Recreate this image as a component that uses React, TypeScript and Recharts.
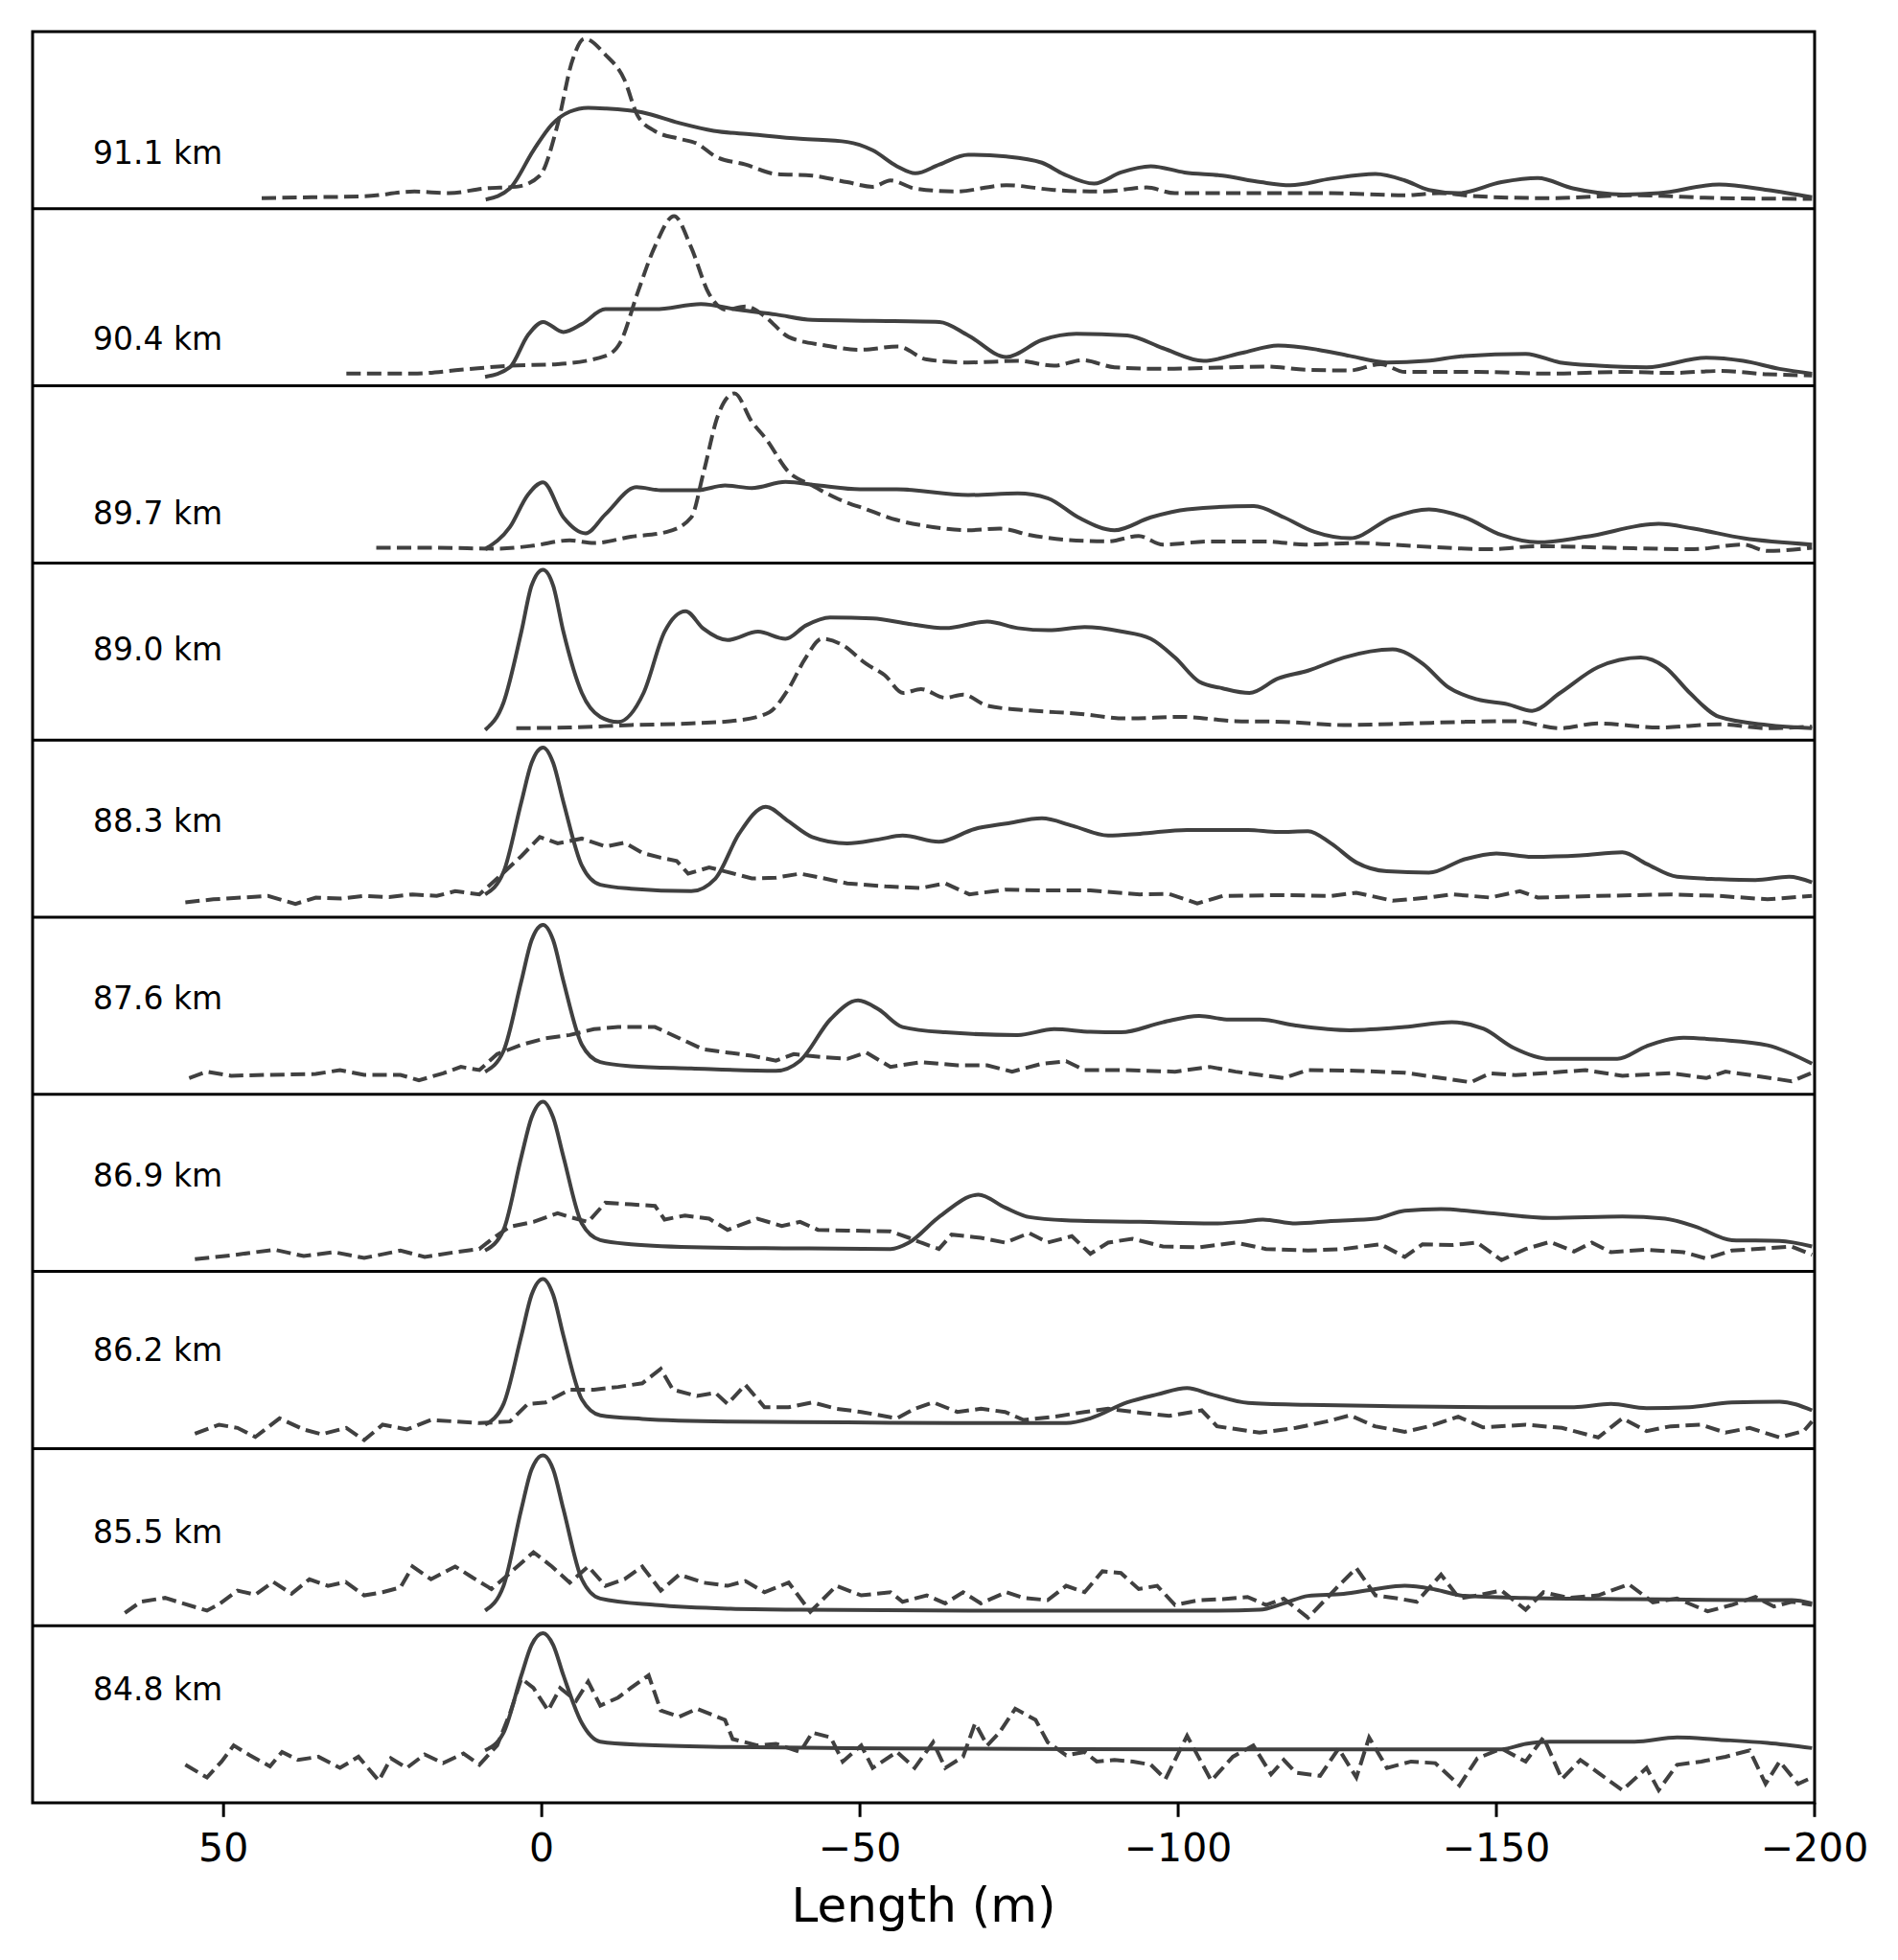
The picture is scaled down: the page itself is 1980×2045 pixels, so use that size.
import React from 'react';
import { LineChart, Line, XAxis, YAxis } from 'recharts';

type P = [number, number];

const panelLabels = ['91.1 km', '90.4 km', '89.7 km', '89.0 km', '88.3 km', '87.6 km', '86.9 km', '86.2 km', '85.5 km', '84.8 km'];
const xTicks = [50, 0, -50, -100, -150, -200];
const xDomain = [-200, 80];
const xLabel = 'Length (m)';

const s911: P[] = [[8.8,5.2],[5,11.5],[1.3,33],[-1.6,47.6],[-4.4,54.8],[-7.3,57],[-10,56.6],[-15.8,54.4],[-21.5,48.5],[-27,44],[-33,42],[-40.6,39.5],[-48,37.7],[-52,33],[-55.8,24],[-58.7,20],[-62.5,25],[-67,30.5],[-73,29.5],[-78.6,26],[-82,19.6],[-86.8,14.2],[-91,20.5],[-95.7,24],[-101,20.5],[-107,18.7],[-113,15],[-117.6,13.3],[-124,17],[-131,19.6],[-135.6,16],[-139.4,10.6],[-144,8.8],[-150.8,15],[-156.5,17.3],[-162,11.5],[-170,8],[-175.5,8.8],[-185,13.7],[-192.6,10.6],[-199.6,6.5]];
const d911: P[] = [[44,6],[36,6.5],[27.9,7],[20,9.7],[14.6,8.8],[8.9,11.5],[4,12.4],[0.3,18.7],[-2.5,47.6],[-4.8,83.6],[-6.7,96],[-10,87],[-13,72.8],[-15,53],[-17.7,44],[-21.6,39.5],[-24.4,36.8],[-27.3,29.5],[-32,25],[-36.8,19.6],[-42.5,18.7],[-48,15],[-52,12.4],[-54.8,16],[-58.6,11.5],[-65,9.7],[-73,13.3],[-80.5,10.6],[-88,9.7],[-95,12],[-99.5,8.8],[-111,8.8],[-124,8.8],[-135.6,7.6],[-141,8.8],[-147,7],[-158,6],[-171.7,7.6],[-185,6],[-199.6,5.6]];

const s904: P[] = [[8.9,5.2],[5,10.6],[2.2,28.6],[-0.2,36.2],[-3.4,30.5],[-6.3,35],[-10,43.4],[-17.8,43.4],[-25,46.3],[-31,43],[-36.8,40.4],[-42.5,37.3],[-52,36.8],[-62.5,36.2],[-67,28.6],[-73,16.4],[-78.6,26],[-84,29.5],[-92,28.6],[-97.6,21.4],[-104,14.2],[-110,18.7],[-115.7,22.9],[-122,20.5],[-127,17],[-132.8,13.3],[-139,14.2],[-145,17],[-154.6,18.2],[-160,13.3],[-166,11.5],[-173.6,10.6],[-183,16],[-188.8,14.2],[-194.5,9.7],[-199.6,7]];
const d904: P[] = [[30.7,7],[20.3,7],[12.7,9.2],[5,11.5],[-2.5,12.4],[-10,17],[-12.4,25],[-15,52],[-17.8,79],[-20.8,96],[-23.4,79],[-26.3,52],[-29,43],[-32,45],[-35,39.5],[-38.8,27.7],[-44.4,23],[-50,20.5],[-56,22.3],[-60.5,15],[-67,13.3],[-74.8,14.2],[-80.5,11.5],[-85,14.6],[-90,10.6],[-97.6,9.7],[-105,10.3],[-113.8,11],[-120,9.2],[-127,8.8],[-131.8,12.4],[-135.6,8],[-147,8],[-158.4,7],[-170,8],[-177.4,7.4],[-185,8.5],[-192.6,6.7],[-199.6,6]];

const s897: P[] = [[8.9,8],[5,20.5],[2.2,38.6],[-0.2,45.8],[-3.4,26],[-6.9,17],[-10,27.7],[-14.9,43],[-18.7,41.3],[-24.4,41.3],[-28.8,44],[-33,42.5],[-38.3,46],[-43.5,44],[-50,41.8],[-55.8,41.8],[-67,38.6],[-74.8,39.5],[-79.5,36.8],[-84.3,26],[-90,18.7],[-95.7,26],[-101.4,30.5],[-111.9,32.3],[-116.6,26],[-121.4,17.8],[-127,14.2],[-133.7,26],[-139.4,30.5],[-145,26],[-150.8,16],[-156.5,11.9],[-164,15],[-175.5,22.3],[-181,19.6],[-188.8,14.2],[-199.6,10.6]];
const d897: P[] = [[26,8.8],[16.4,8.8],[7,8.3],[1.3,10],[-4.4,13],[-8.2,11.5],[-14,15],[-19.7,17.8],[-23.5,26],[-25.4,51],[-27.7,83.6],[-30.3,96],[-33,80],[-35.3,70],[-38.7,52],[-42.5,44],[-46.3,36.8],[-51,30.5],[-55.8,24.5],[-61.5,20.5],[-67,18.7],[-72,19.6],[-76.7,16],[-82.4,13.3],[-89,12.4],[-93.8,15.5],[-97.6,10.6],[-105,12.4],[-113.8,12.4],[-120,10.6],[-128,11.5],[-137.5,9.7],[-149,8],[-156.5,9.7],[-168,8.8],[-181,8],[-188.8,10.6],[-192.6,7],[-199.6,8.8]];

const s890: P[] = [[8.9,5.6],[6,21],[3.2,61],[1.6,87],[-0.2,96],[-1.8,87],[-3.4,61],[-6.3,26.4],[-9.2,12.9],[-12,10],[-16,26.4],[-19.3,61],[-22.6,72.6],[-25.4,62.7],[-29.2,56.3],[-34,61],[-38.3,57],[-41.5,64.5],[-45.3,69],[-52,68.5],[-57.7,65.4],[-63.4,63],[-70,66.7],[-74.8,63],[-79.6,61.8],[-85.3,63.6],[-91,61.2],[-95.7,57],[-99.5,46.4],[-103.3,32.8],[-107,29],[-111.2,26.4],[-115.7,34.6],[-120.4,39],[-126,46.4],[-133.7,51],[-138.5,42.7],[-142.3,30],[-147,22.8],[-151.8,20],[-155.6,16.3],[-160,26.4],[-166,41],[-172.7,46.4],[-176.5,41],[-180.4,26.4],[-185,12.9],[-192.6,8.3],[-199.6,6.5]];
const d890: P[] = [[4,6.5],[-4.4,6.9],[-14,8.3],[-23.5,9.2],[-31,11],[-35.8,15.6],[-38.7,28.3],[-41.5,46.4],[-44,57],[-47.2,53.6],[-51,42.8],[-53.9,36.4],[-56.8,26.4],[-59.6,28.6],[-63.4,23.7],[-66.2,25.5],[-70,19.2],[-76.7,16.5],[-84.3,14.7],[-92,12],[-100.5,12.9],[-109,10.5],[-116.6,10.1],[-126,8.3],[-136.5,9.2],[-145,10.1],[-152.7,10.5],[-160,6.5],[-166,9.2],[-175.5,6.9],[-185,8.7],[-192.6,6.5],[-199.6,7.4]];

const s883: P[] = [[8.9,12.8],[6,25.4],[3.2,65],[1.6,87],[-0.2,95.7],[-1.8,87],[-3.4,65],[-6.3,29],[-9.2,18.2],[-14,16],[-23.5,14.6],[-27.3,21.8],[-31,47],[-35.2,62.3],[-38.7,54.2],[-42.5,45.2],[-48,41.6],[-52.9,43.8],[-56.7,46],[-62.4,42.5],[-68,49.7],[-73,52.8],[-78.6,55.7],[-83.4,51.5],[-89,46],[-94,47],[-101.4,49.2],[-111,49.2],[-115.7,48],[-120.4,48.5],[-124,41.6],[-128,30.8],[-132.8,25.8],[-139.4,25],[-145,32.6],[-150,35.9],[-155.6,34],[-163.2,34.8],[-169.8,36.6],[-173.6,30],[-178.4,22.7],[-185,21.4],[-190.7,20.9],[-196,22.7],[-199.6,19.6]];
const d883: P[] = [[56,8.3],[51.6,10],[47,11],[43,11.9],[38.7,7.4],[35.5,11],[31.5,10.5],[27.9,11.9],[24,11.2],[20.3,12.8],[16.5,11.9],[13.6,14.6],[9.8,12.8],[7,21.8],[3.2,34.4],[0.3,45.2],[-2.5,41.6],[-6.3,44.3],[-10,39.8],[-13,42],[-15.8,36.2],[-18.7,33.5],[-21.2,31.7],[-23,24.5],[-26.3,28],[-29.2,25.4],[-33,21.8],[-36.8,22.2],[-40.6,24.5],[-44.4,21.8],[-48,19],[-54,17.3],[-59.6,16.4],[-63.4,19],[-67.2,12.8],[-73,15.5],[-78.6,15],[-86.2,15],[-94,12.8],[-98.6,13],[-103,7.7],[-107,11.9],[-116.6,12.4],[-124,11.9],[-128,13.7],[-133.7,9.2],[-139.4,11],[-143,12.8],[-149,11],[-153.7,14.6],[-156.5,11],[-166,11.9],[-177.4,12.8],[-185,11.9],[-192.6,10],[-199.6,11.9]];

const s876: P[] = [[8.9,12.8],[6,24.5],[3.2,64],[1.6,87],[-0.2,95.7],[-1.8,87],[-3.4,64],[-6.3,28],[-9.2,18.2],[-14,15.9],[-23.5,14.6],[-36.8,13.3],[-40.6,19],[-45.4,42.5],[-49.7,53],[-52.9,48],[-56.7,38],[-63.4,35],[-74.8,33.5],[-80.5,36.8],[-86.2,35.3],[-91,35],[-97.6,40.7],[-103.3,44.3],[-108,42.2],[-112.8,42.2],[-118.5,38.9],[-127,36.2],[-135.6,38],[-143,40.7],[-148,37],[-152.7,26.3],[-158.4,20],[-169,20],[-173.6,27.2],[-179.4,32],[-185,30.8],[-192.6,27.7],[-199.6,17.3]];
const d876: P[] = [[55.4,9.2],[52.6,12.8],[48.8,10.5],[43,11],[35.5,11.5],[31.7,13.7],[27.9,11],[22.2,11],[19.3,7.9],[15.5,11.9],[12.7,15.5],[9.8,13.7],[7,22.7],[3.2,28],[-0.6,31.7],[-4.4,33.5],[-8.2,36.8],[-12,38],[-17.8,38],[-21.6,31.7],[-25.4,25.4],[-29.2,23.6],[-33,21.8],[-36.8,19],[-39.6,22.7],[-44.4,20.9],[-48,20],[-51,23.6],[-54.8,15.5],[-59.6,18.2],[-65.3,16.4],[-70,16.4],[-73.9,12.8],[-78.6,17.3],[-82.4,18.7],[-85.3,13.7],[-92,13.7],[-99.5,12.8],[-105,15.5],[-109,12.8],[-116.6,9.2],[-120.4,13.7],[-128,13.3],[-135.6,12.2],[-146,6.8],[-149,11.9],[-153,10.8],[-158.4,12.2],[-164,13.7],[-169.8,10.5],[-177.4,11.9],[-183,9.2],[-186,12.8],[-190.7,10.5],[-196.4,7.4],[-199.6,12.2]];

const s869: P[] = [[8.9,11.9],[6,23.6],[3.2,65],[1.6,87],[-0.2,96],[-1.8,87],[-3.4,65],[-6.3,27.2],[-9.2,17.8],[-14,15.5],[-25.4,13.7],[-38.7,13.2],[-54.8,12.8],[-57.7,16.4],[-62.4,30.8],[-68.6,43.4],[-72.8,36.2],[-76.6,30.8],[-82.4,29],[-94,28.1],[-105.5,27.2],[-110,28.1],[-113.3,29.4],[-118.5,27.2],[-124,28.6],[-131,29.9],[-135.6,34.4],[-141.3,35.3],[-149,33],[-158.4,30.3],[-169.8,31.2],[-176.5,29.9],[-181.3,25.4],[-187,17.8],[-194.5,17.3],[-199.6,14.2]];
const d869: P[] = [[54.5,7],[48.8,9.2],[42,12.4],[37.4,8.8],[32.6,11],[27.9,7.7],[22.2,11.9],[18.4,8.3],[13.6,11],[9.8,12.8],[7.9,18.2],[5,25.4],[1.3,28.1],[-2.5,33],[-4.4,30.8],[-7.3,28.1],[-10,38.9],[-14,38],[-17.8,37.1],[-19.3,29.4],[-22.5,31.7],[-26.3,29.9],[-29.2,23.6],[-33.9,29.9],[-37.7,25.8],[-40.6,28.1],[-43.4,23.6],[-48,23.2],[-54.8,22.7],[-57.7,19.1],[-59.6,16.4],[-62.4,12.8],[-64.4,20.9],[-69,19.1],[-72.8,16.4],[-76.6,21.8],[-79.5,16.4],[-83.3,20],[-86.2,10.1],[-89,16.4],[-92.8,18.6],[-97.6,14.2],[-103.3,13.7],[-109,16.4],[-113.8,12.8],[-120.4,11.9],[-126,12.8],[-131.8,15.5],[-135.6,8.3],[-138.4,15.5],[-143,15],[-147,16.4],[-150.8,6.5],[-154.6,12.8],[-158.4,16.8],[-162.2,11.4],[-165,16.4],[-168,11],[-173.6,12.4],[-179.4,11],[-183,7.4],[-187,11.9],[-192.6,13.2],[-196.4,14.2],[-199.6,9.5]];

const s862: P[] = [[8.9,13.7],[6,25.4],[3.2,64],[1.6,87],[-0.2,96],[-1.8,87],[-3.4,64],[-6.3,28],[-9.2,19],[-15.8,17],[-29.2,15.5],[-48,15],[-67.2,14.6],[-82.4,14.6],[-86.2,17.3],[-92,26.3],[-96.7,30.8],[-101.4,34.4],[-105.2,30.8],[-111,26],[-120.4,24.9],[-133.7,24.1],[-149,23.6],[-162.2,23.6],[-168,25.4],[-173.6,23],[-180.3,23.6],[-187,26.3],[-194.5,26.7],[-199.6,21.8]];
const d862: P[] = [[54.5,8.6],[50.7,13.7],[47.8,11.9],[45,6.8],[41.2,17.3],[37.4,11],[34.6,8.3],[30.7,11.9],[27.9,5],[25,13.7],[21.2,11],[17.4,16.4],[13.6,15.5],[9.8,14.6],[7,15.1],[5,15.5],[2.2,25.4],[-0.6,26.3],[-4.4,33.5],[-8.2,33.5],[-12,35],[-15.8,37.1],[-18.7,45.2],[-20.6,33.5],[-24.4,29.9],[-27.3,31.7],[-29.2,25.4],[-32,36.2],[-35,23.6],[-38.8,23.6],[-42.5,26.3],[-46.3,22.7],[-50.2,20.9],[-55.8,17.3],[-58.6,22.7],[-61.5,26.3],[-65.3,20.9],[-69,22.7],[-72.8,20.9],[-75.7,16.4],[-80.5,18.2],[-85.3,20.9],[-89,22.7],[-94,20.5],[-98.6,18.7],[-103.7,21.8],[-106.1,12.8],[-112.8,9.2],[-118.5,11.9],[-123.3,15.5],[-127,19],[-130.9,12.8],[-135.6,9.7],[-139.4,12.8],[-144,18.2],[-147.9,12.2],[-154.6,13.7],[-160.3,11.9],[-166,6.5],[-169.8,17.3],[-173.6,10.1],[-177.4,12.8],[-182.2,13.7],[-186,9.2],[-189.8,11.9],[-194.5,6.5],[-198.3,10.1],[-199.6,15.5]];

const s855: P[] = [[8.9,8.3],[6,22.3],[3.2,65.6],[1.6,88],[-0.2,95.9],[-1.8,88],[-3.4,65.6],[-6.3,26],[-9.2,15.1],[-17.8,11.5],[-29.2,9.4],[-40.6,8.8],[-67.2,8.3],[-105.2,8.3],[-112.8,8.8],[-116.6,12.4],[-120.4,16.6],[-126,17.8],[-131,20.5],[-135.6,22.3],[-140.4,20.2],[-145,16.6],[-154.6,15.5],[-171.7,14.8],[-190.7,14.2],[-196.4,14.2],[-199.6,12.4]];
const d855: P[] = [[65.5,7],[63,13.3],[59.2,15.5],[56.4,12.4],[52.6,8.3],[50.7,11.9],[47.8,19.6],[45,17.3],[42.2,24.5],[39.3,17.8],[36.5,26],[33.6,22.3],[30.8,24.5],[27.9,16.9],[25,18.7],[22.2,21.4],[20.3,33.2],[17.4,26],[13.6,33.2],[10.8,26.8],[7.9,20.5],[5,29.5],[1.3,41.3],[-1.6,33.2],[-4.4,24.1],[-7.3,33.2],[-10,22.3],[-13,26],[-15.8,33.2],[-18.7,19.6],[-21.6,28.6],[-25.4,24.1],[-29.2,22.3],[-32,25],[-35,18.7],[-38.8,24.1],[-42.2,7.6],[-46.3,22.3],[-50.2,16.9],[-54.8,18.7],[-56.7,13.3],[-60.5,16.9],[-63.4,12.4],[-66.2,18.7],[-69,12.4],[-73,18.7],[-75.7,15.5],[-79.5,14.2],[-82.4,22.3],[-85.3,18.7],[-88.1,30.5],[-91,29.5],[-93.8,20.5],[-96.7,22.3],[-99.5,11.5],[-103.3,14.2],[-107,14.8],[-110.9,16],[-113.8,11.5],[-116.6,15.1],[-120.4,4.3],[-123.3,15.1],[-125.2,22.3],[-128,32.3],[-131,16.9],[-134.6,15.1],[-137.5,13.3],[-141.3,28.6],[-144.2,15.1],[-147,16.9],[-150.8,19.6],[-154.6,8.8],[-157.4,18.7],[-161.3,15.5],[-166,16.9],[-170.8,23.2],[-174.6,13],[-178.4,15.1],[-183.2,7.9],[-187,11.5],[-190.7,16],[-193.6,10.6],[-196.4,13.3],[-199.6,11.5]];

const s848: P[] = [[8.9,29.5],[6,39.5],[3.2,71.9],[1.6,89],[-0.2,95.7],[-1.8,89],[-3.4,71.9],[-6.3,44.9],[-9.2,34.4],[-15.8,32.6],[-29.2,31.4],[-48,30.8],[-67.2,30.5],[-105.2,30.1],[-150.8,30.1],[-154.6,33.2],[-158.4,34.4],[-171.7,34.4],[-178.4,36.8],[-185,35.5],[-192.6,33.7],[-199.6,30.8]];
const d848: P[] = [[56,21.4],[52.6,14.2],[50.3,23.2],[48.4,32.3],[45.9,26.8],[42.7,20.5],[40.8,28.6],[38.3,24.1],[35.1,25.9],[31.7,19.6],[28.8,25.9],[25.6,12.4],[23.7,25],[21.2,19.6],[18.4,27.2],[15.5,22.3],[12.3,27.7],[9.8,21.4],[7,32.3],[5,50.3],[3.2,70.1],[1.3,64.7],[-1,52],[-2.9,64.7],[-5.4,57.5],[-7.3,68.3],[-9.2,54.8],[-12,59.3],[-14,64.7],[-16.8,71.9],[-18.7,52],[-21.6,48.5],[-24.4,53],[-28.8,46.7],[-30,35.9],[-33.9,32.3],[-36.8,33.2],[-40.6,28.6],[-42.5,39.5],[-45.4,36.8],[-47.3,23.2],[-50.2,32.3],[-52,19.6],[-55.8,28.6],[-58.6,19.6],[-61.5,34.1],[-63.4,19.6],[-66.2,25.9],[-68.1,44.9],[-70,32.3],[-71.9,39.5],[-74.4,53],[-77.6,46.7],[-79.5,34.1],[-82.4,26.8],[-85.3,28.6],[-87.2,23.2],[-90,24.1],[-92.9,23.2],[-95.7,21.4],[-98,13.3],[-101.4,37.7],[-105.2,12.4],[-108.6,25.9],[-111.8,32.3],[-114.6,16],[-116.6,24.1],[-118.5,16.9],[-122.3,15.1],[-125.2,30.5],[-128,14.2],[-130,36.8],[-132.8,19.6],[-136.6,23.2],[-140.4,22.3],[-144.2,9.7],[-147,25],[-150.8,30.5],[-154.6,23.2],[-157.4,36.8],[-160.3,13.3],[-163.2,24.1],[-166,16.9],[-169.8,7],[-173.6,19.6],[-175.5,7],[-178.4,21.4],[-182.2,23.2],[-186,25.9],[-189.8,29.5],[-192.3,10.6],[-194.5,23.2],[-197.4,10.6],[-199.6,14.2]];

const solidSeries: P[][] = [s911, s904, s897, s890, s883, s876, s869, s862, s855, s848];
const dashedSeries: P[][] = [d911, d904, d897, d890, d883, d876, d869, d862, d855, d848];

const toRows = (pts: P[]) => pts.map(([x, y]) => ({ x, y }));
const fmtTick = (v: number) => (v < 0 ? '\u2212' + Math.abs(v) : String(v));

const W = 1980;
const H = 2045;
const PL = 34;
const PR = 1893;
const PT = 33;
const PB = 1881;
const PH = (PB - PT) / 10;
const AXIS_H = 160;
const LABEL_BASELINES = [171, 365, 547, 689, 868, 1053, 1238, 1420, 1610, 1774];
const FONT = "'DejaVu Sans', sans-serif";
const LINE_COLOR = '#404040';

function Panel({ k }: { k: number }) {
  const isLast = k === 9;
  return (
    <div style={{ position: 'absolute', left: 0, top: PT + k * PH }}>
      <LineChart
        width={W}
        height={PH + (isLast ? AXIS_H : 0)}
        margin={{ top: 0, right: W - PR, bottom: 0, left: PL }}
      >
        <XAxis
          type="number"
          dataKey="x"
          domain={xDomain}
          reversed
          allowDataOverflow
          ticks={xTicks}
          interval={0}
          hide={!isLast}
          height={AXIS_H}
          tickSize={15}
          tickMargin={17}
          axisLine={false}
          tickLine={{ stroke: '#000', strokeWidth: 3 }}
          tick={{ fill: '#000', fontSize: 41, fontFamily: FONT }}
          tickFormatter={fmtTick}
        />
        <YAxis hide type="number" domain={[0, 100]} allowDataOverflow />
        <Line
          data={toRows(dashedSeries[k])}
          dataKey="y"
          type={k >= 4 ? 'linear' : 'monotone'}
          stroke={LINE_COLOR}
          strokeWidth={4}
          strokeDasharray="15 6.5"
          dot={false}
          activeDot={false}
          isAnimationActive={false}
        />
        <Line
          data={toRows(solidSeries[k])}
          dataKey="y"
          type="monotone"
          stroke={LINE_COLOR}
          strokeWidth={4}
          dot={false}
          activeDot={false}
          isAnimationActive={false}
        />
      </LineChart>
    </div>
  );
}

export default function App() {
  return (
    <div style={{ position: 'absolute', left: 0, top: 0, width: W, height: H, background: '#fff', fontFamily: FONT }}>
      {panelLabels.map((_, k) => (
        <Panel key={k} k={k} />
      ))}
      <svg width={W} height={H} style={{ position: 'absolute', left: 0, top: 0, pointerEvents: 'none' }}>
        <rect x={PL} y={PT} width={PR - PL} height={PB - PT} fill="none" stroke="#000" strokeWidth={3} />
        {panelLabels.slice(1).map((_, i) => (
          <line key={i} x1={PL} x2={PR} y1={PT + (i + 1) * PH} y2={PT + (i + 1) * PH} stroke="#000" strokeWidth={3} />
        ))}
        {panelLabels.map((t, k) => (
          <text key={t} x={97} y={LABEL_BASELINES[k]} fontSize={33} fontFamily={FONT} fill="#000">
            {t}
          </text>
        ))}
        <text x={(PL + PR) / 2} y={2005} fontSize={50} fontFamily={FONT} fill="#000" textAnchor="middle">
          {xLabel}
        </text>
      </svg>
    </div>
  );
}
